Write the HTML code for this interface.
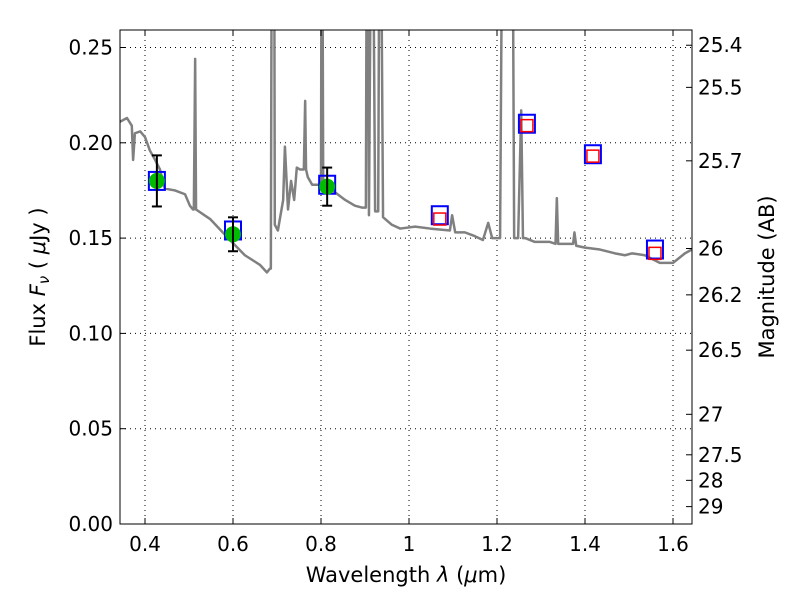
<!DOCTYPE html>
<html><head><meta charset="utf-8"><style>
body{margin:0;background:#fff;}
svg{display:block;font-family:"DejaVu Sans","Liberation Sans",sans-serif;}
</style></head><body>
<svg id="chart" width="800" height="600">
<rect width="800" height="600" fill="#fff"/>
<defs><clipPath id="clip"><rect x="120" y="30" width="572" height="494"/></clipPath></defs>
<g id="grid"></g>
<g id="spec" clip-path="url(#clip)"></g>
<g id="phot"></g>
<rect x="120" y="30" width="572" height="494" fill="none" stroke="#000" stroke-width="1"/>
<g id="axes"></g>
<text x="406" y="582" font-size="21" text-anchor="middle">Wavelength  <tspan font-style="italic">λ</tspan> (<tspan font-style="italic">μ</tspan>m)</text>
<text transform="translate(45,277) rotate(-90)" font-size="21" text-anchor="middle">Flux  <tspan font-style="italic">F<tspan font-size="15" dy="4">ν</tspan></tspan><tspan dy="-4"> ( </tspan><tspan font-style="italic">μ</tspan>Jy )</text>
<text transform="translate(774,277) rotate(-90)" font-size="21" text-anchor="middle">Magnitude (AB)</text>
</svg>
<script>
const specWl=[0.343,0.359,0.370,0.373,0.377,0.389,0.400,0.411,0.423,0.434,0.445,0.468,0.491,0.502,0.509,0.511,0.514,0.516,0.548,0.593,0.627,0.661,0.677,0.684,0.686,0.689,0.693,0.695,0.702,0.714,0.718,0.725,0.732,0.739,0.745,0.752,0.761,0.764,0.766,0.770,0.780,0.793,0.800,0.802,0.805,0.809,0.832,0.855,0.877,0.893,0.902,0.905,0.909,0.916,0.923,0.930,0.934,0.941,0.961,0.980,1.014,1.048,1.093,1.098,1.105,1.127,1.150,1.168,1.180,1.189,1.207,1.214,1.220,1.234,1.239,1.248,1.255,1.259,1.264,1.286,1.320,1.333,1.336,1.339,1.343,1.373,1.376,1.380,1.400,1.434,1.468,1.491,1.507,1.536,1.570,1.600,1.627,1.643];
const specFlux=[0.211,0.213,0.209,0.191,0.205,0.206,0.203,0.196,0.191,0.186,0.176,0.175,0.173,0.167,0.165,0.165,0.244,0.165,0.160,0.149,0.141,0.136,0.132,0.134,0.134,0.400,0.400,0.157,0.154,0.170,0.198,0.165,0.180,0.170,0.187,0.186,0.186,0.222,0.186,0.182,0.178,0.178,0.178,0.400,0.178,0.178,0.174,0.170,0.167,0.166,0.166,0.400,0.162,0.400,0.164,0.164,0.400,0.161,0.157,0.155,0.156,0.155,0.154,0.162,0.153,0.153,0.151,0.149,0.158,0.150,0.150,0.400,0.400,0.400,0.150,0.150,0.217,0.150,0.150,0.148,0.148,0.147,0.171,0.147,0.147,0.147,0.153,0.146,0.145,0.144,0.142,0.141,0.142,0.141,0.137,0.137,0.142,0.144];
const photWl=[0.427,0.600,0.814];
const photFlux=[0.180,0.152,0.177];
const photErr=[0.0134,0.0089,0.0100];
const modelWl=[0.427,0.600,0.814,1.070,1.268,1.418,1.559];
const modelFlux=[0.180,0.154,0.178,0.162,0.210,0.194,0.144];
const predWl=[1.070,1.268,1.418,1.559];
const predFlux=[0.160,0.209,0.193,0.142];
const xTicks=[0.4,0.6,0.8,1,1.2,1.4,1.6];
const xTickLabels=["0.4","0.6","0.8","1","1.2","1.4","1.6"];
const yTicks=[0,0.05,0.10,0.15,0.20,0.25];
const yTickLabels=["0.00","0.05","0.10","0.15","0.20","0.25"];
const magTicks=[25.4,25.5,25.7,26,26.2,26.5,27,27.5,28,29];
const magTickLabels=["25.4","25.5","25.7","26","26.2","26.5","27","27.5","28","29"];

const NS="http://www.w3.org/2000/svg";
const X=v=>145+(v-0.4)*440;
const Y=v=>524-v*1906;
const magToFlux=m=>Math.pow(10,(23.9-m)/2.5);
function mk(tag,attrs,parent){const e=document.createElementNS(NS,tag);for(const k in attrs)e.setAttribute(k,attrs[k]);parent.appendChild(e);return e;}
const grid=document.getElementById('grid'),axes=document.getElementById('axes');
xTicks.forEach((t,i)=>{
  const l=mk('line',{x1:X(t),x2:X(t),y1:30,y2:524,stroke:'#000','stroke-dasharray':'1,4','stroke-width':1},grid);
  
  
  mk('line',{x1:X(t),x2:X(t),y1:524,y2:518,stroke:'#000'},axes);
  mk('line',{x1:X(t),x2:X(t),y1:30,y2:36,stroke:'#000'},axes);
  const tx=mk('text',{x:X(t),y:551,'font-size':20,'text-anchor':'middle'},axes);
  tx.textContent=xTickLabels[i];
  
  
});
yTicks.forEach((t,i)=>{
  const l=mk('line',{x1:120,x2:692,y1:Y(t),y2:Y(t),stroke:'#000','stroke-dasharray':'1,4','stroke-width':1},grid);
  
  
  mk('line',{x1:120,x2:126,y1:Y(t),y2:Y(t),stroke:'#000'},axes);
  const tx=mk('text',{x:113,y:Y(t)+7,'font-size':20,'text-anchor':'end'},axes);
  tx.textContent=yTickLabels[i];
  
  
});
magTicks.forEach((m,i)=>{
  const y=Y(magToFlux(m));
  mk('line',{x1:692,x2:686,y1:y,y2:y,stroke:'#000'},axes);
  const tx=mk('text',{x:698,y:y+7,'font-size':20},axes);
  tx.textContent=magTickLabels[i];
  
  
});
const spec=document.getElementById('spec');
const p=mk('polyline',{points:specWl.map((w,i)=>X(w)+','+Y(specFlux[i])).join(' '),fill:'none',stroke:'#808080','stroke-width':2.5,'stroke-linejoin':'round'},spec);


const phot=document.getElementById('phot');
modelWl.forEach((w,i)=>{
  const r=mk('rect',{x:X(w)-8,y:Y(modelFlux[i])-9,width:16,height:18,fill:'none',stroke:'#0000ff','stroke-width':2},phot);
  
  
});
predWl.forEach((w,i)=>{
  const r=mk('rect',{x:X(w)-6,y:Y(predFlux[i])-6,width:12,height:12,fill:'none',stroke:'#ff0000','stroke-width':1.5},phot);
  
  
});
photWl.forEach((w,i)=>{
  const x=X(w),y1=Y(photFlux[i]-photErr[i]),y2=Y(photFlux[i]+photErr[i]);
  const g=mk('g',{},phot);
  
  
  mk('circle',{cx:x,cy:Y(photFlux[i]),r:8,fill:'#00bb00'},g);
  mk('line',{x1:x,x2:x,y1:y1,y2:y2,stroke:'#000','stroke-width':2},g);
  mk('line',{x1:x-5,x2:x+5,y1:y1,y2:y1,stroke:'#000','stroke-width':2},g);
  mk('line',{x1:x-5,x2:x+5,y1:y2,y2:y2,stroke:'#000','stroke-width':2},g);
});
</script>
</body></html>
